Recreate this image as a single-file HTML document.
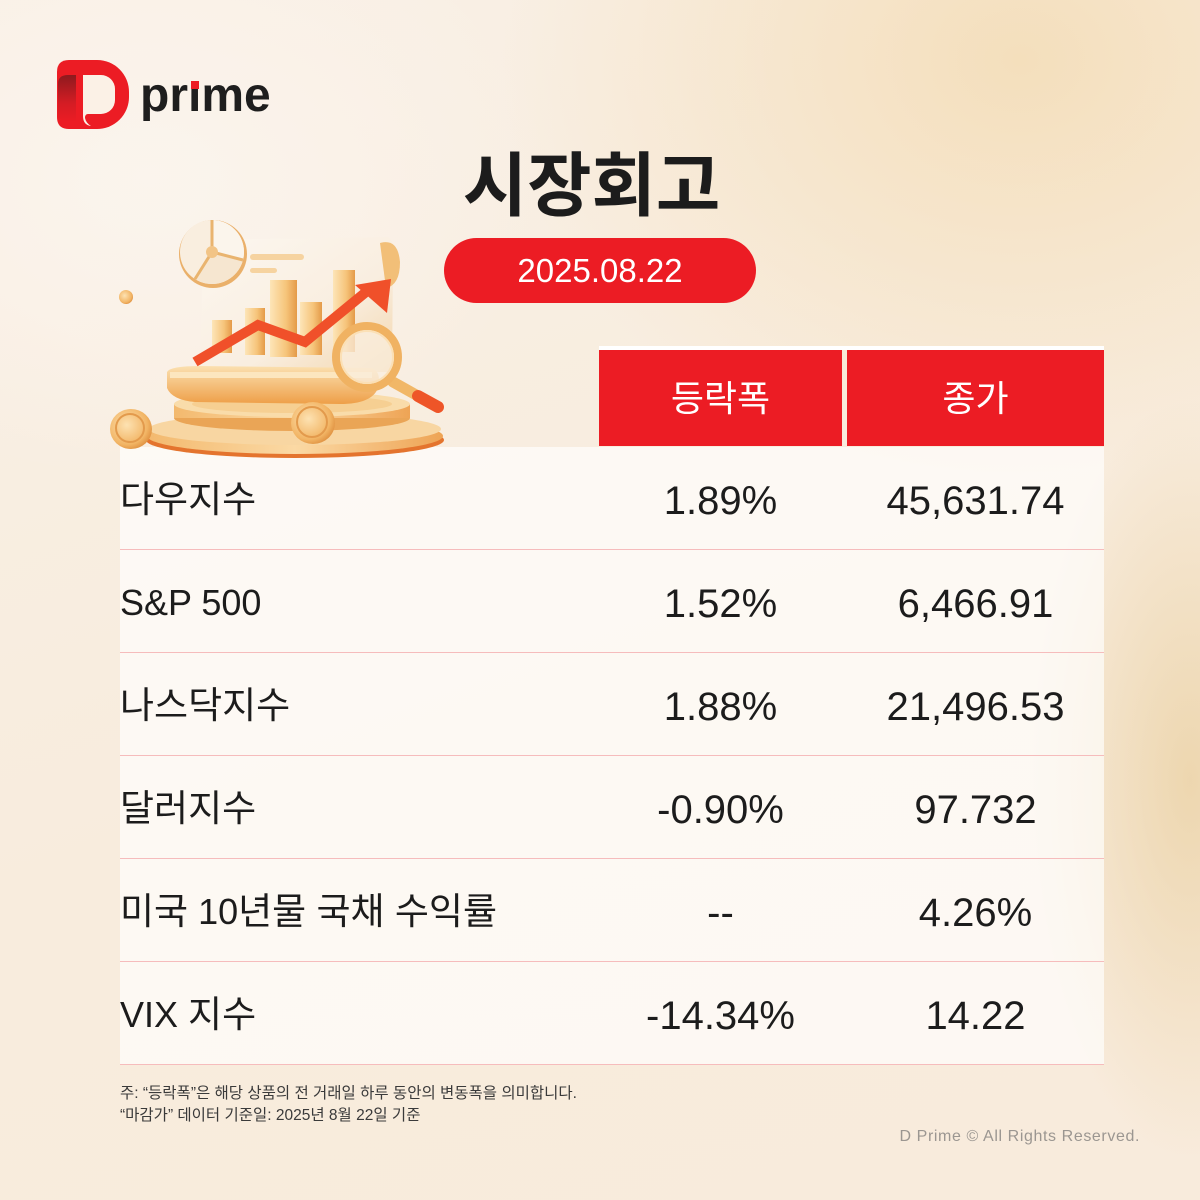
<!DOCTYPE html>
<html lang="ko">
<head>
<meta charset="utf-8">
<style>
  html,body{margin:0;padding:0;}
  body{
    width:1200px;height:1200px;position:relative;overflow:hidden;
    font-family:"Liberation Sans","Noto Sans CJK KR",sans-serif;
    background:
      radial-gradient(ellipse 520px 420px at 1020px 60px, rgba(244,222,186,0.95), rgba(244,222,186,0) 100%),
      radial-gradient(ellipse 160px 380px at 1190px 780px, rgba(236,212,170,0.9), rgba(236,212,170,0) 100%),
      radial-gradient(ellipse 400px 300px at 150px 180px, rgba(251,245,238,0.9), rgba(251,245,238,0) 100%),
      linear-gradient(160deg, #f9f0e6 0%, #f8ecdd 55%, #f8ebdc 100%);
  }
  .abs{position:absolute;}
  .title{left:0;width:1183px;top:138px;text-align:center;font-size:70px;font-weight:700;color:#1c1c1c;line-height:96px;}
  .pill{left:444px;top:238px;width:312px;height:65px;border-radius:33px;background:#ec1c24;color:#fff;font-size:33px;text-align:center;line-height:66px;}
  .hdr{top:346px;height:4px;background:#fff;}
  .hcell{top:350px;height:96px;background:#ec1c24;color:#fff;font-size:36px;text-align:center;line-height:98px;}
  .rows{left:120px;top:447px;width:984px;height:618px;background:rgba(255,255,255,0.66);}
  .row{position:absolute;left:120px;width:984px;height:103px;border-bottom:1.5px solid #f6bcbc;box-sizing:border-box;}
  .lab{position:absolute;left:0;top:2px;height:101px;line-height:101px;font-size:36px;color:#1c1c1c;white-space:nowrap;}
  .k{font-size:37px;}
  .v1,.v2{position:absolute;top:3px;height:103px;line-height:103px;font-size:40px;color:#1c1c1c;text-align:center;}
  .v1{left:479px;width:243px;}
  .v2{left:727px;width:257px;}
  .note{left:120px;font-size:15.5px;color:#3a3a3a;line-height:20px;white-space:nowrap;}
  .copy{right:60px;top:1128px;font-size:16px;color:#9b9691;letter-spacing:0.6px;white-space:nowrap;}
  .logo-text{left:140px;top:66px;font-size:48px;font-weight:700;color:#1e1e1e;line-height:60px;white-space:nowrap;}
</style>
</head>
<body>

<!-- Logo -->
<svg class="abs" style="left:50px;top:50px" width="90" height="90" viewBox="0 0 90 90">
  <defs>
    <linearGradient id="lg1" x1="0" y1="0" x2="0" y2="1">
      <stop offset="0" stop-color="#8e1a1e"/>
      <stop offset="0.6" stop-color="#d41c24"/>
      <stop offset="1" stop-color="#ec1c24"/>
    </linearGradient>
  </defs>
  <path d="M7,22 Q7,10 19,10 L47,10 A32,32 0 0 1 79,42 L79,47 A32,32 0 0 1 47,79 L19,79 Q7,79 7,67 Z" fill="#ec1c24"/>
  <path d="M8,34 Q8,25 18,25 L26,25 L26,72 Q16,72 8,68 Z" fill="url(#lg1)"/>
  <path d="M33,25 L51,25 A14,14 0 0 1 65,39 L65,50 A14,14 0 0 1 51,64 L38,64 Q35,64 35,68 Q36,73 41,76 Q33,75 33,66 Z" fill="#fbf1e6"/>
</svg>
<div class="abs logo-text">prıme</div>
<div class="abs" style="left:191px;top:81px;width:8px;height:8px;background:#ec1c24;"></div>

<!-- Title -->
<div class="abs title">시장회고</div>
<div class="abs pill">2025.08.22</div>

<!-- Table header -->
<div class="abs hdr" style="left:599px;width:505px;"></div>
<div class="abs hcell" style="left:599px;width:243px;">등락폭</div>
<div class="abs hcell" style="left:847px;width:257px;">종가</div>

<!-- Table rows -->
<div class="abs rows"></div>
<div class="row" style="top:447px;"><div class="lab"><span class="k">다우지수</span></div><div class="v1">1.89%</div><div class="v2">45,631.74</div></div>
<div class="row" style="top:550px;"><div class="lab">S&amp;P 500</div><div class="v1">1.52%</div><div class="v2">6,466.91</div></div>
<div class="row" style="top:653px;"><div class="lab"><span class="k">나스닥지수</span></div><div class="v1">1.88%</div><div class="v2">21,496.53</div></div>
<div class="row" style="top:756px;"><div class="lab"><span class="k">달러지수</span></div><div class="v1">-0.90%</div><div class="v2">97.732</div></div>
<div class="row" style="top:859px;"><div class="lab"><span class="k">미국</span> 10<span class="k">년물 국채 수익률</span></div><div class="v1">--</div><div class="v2">4.26%</div></div>
<div class="row" style="top:962px;"><div class="lab">VIX <span class="k">지수</span></div><div class="v1">-14.34%</div><div class="v2">14.22</div></div>

<!-- Notes -->
<div class="abs note" style="top:1084px;">주: “등락폭”은 해당 상품의 전 거래일 하루 동안의 변동폭을 의미합니다.</div>
<div class="abs note" style="top:1106px;">“마감가” 데이터 기준일: 2025년 8월 22일 기준</div>
<div class="abs copy">D Prime © All Rights Reserved.</div>

<!-- Illustration -->
<svg class="abs" style="left:0;top:0" width="1200" height="1200" viewBox="0 0 1200 1200">
  <defs>
    <linearGradient id="goldv" x1="0" y1="0" x2="0" y2="1">
      <stop offset="0" stop-color="#fbe0b0"/>
      <stop offset="1" stop-color="#ee9f48"/>
    </linearGradient>
    <linearGradient id="paper" x1="0" y1="0" x2="1" y2="1">
      <stop offset="0" stop-color="#fcf7f0"/>
      <stop offset="0.6" stop-color="#f9eee0"/>
      <stop offset="1" stop-color="#f3d6ac"/>
    </linearGradient>
    <linearGradient id="bar" x1="0" y1="0" x2="1" y2="0">
      <stop offset="0" stop-color="#fde5b8"/>
      <stop offset="0.6" stop-color="#f6c47a"/>
      <stop offset="1" stop-color="#e49a48"/>
    </linearGradient>
    <linearGradient id="ped" x1="0" y1="0" x2="1" y2="0">
      <stop offset="0" stop-color="#f3b96e"/>
      <stop offset="0.5" stop-color="#fbd9a4"/>
      <stop offset="1" stop-color="#eea455"/>
    </linearGradient>
    <radialGradient id="coin" cx="0.4" cy="0.4" r="0.7">
      <stop offset="0" stop-color="#fde2b2"/>
      <stop offset="0.7" stop-color="#f2b565"/>
      <stop offset="1" stop-color="#d98535"/>
    </radialGradient>
  </defs>

  <!-- pedestal bottom tier -->
  <ellipse cx="295" cy="440" rx="149" ry="18" fill="#e4742e"/>
  <ellipse cx="295" cy="436" rx="148" ry="18" fill="url(#ped)"/>
  <ellipse cx="295" cy="429" rx="146" ry="16" fill="#f8d6a2"/>
  <!-- pedestal top tier -->
  <ellipse cx="292" cy="418" rx="118" ry="13" fill="#eaa556"/>
  <rect x="174" y="404" width="236" height="14" fill="url(#ped)"/>
  <ellipse cx="292" cy="404" rx="118" ry="13" fill="#f9dcaa"/>
  <ellipse cx="292" cy="404" rx="100" ry="9" fill="#f6cf92"/>

  <!-- paper -->
  <path d="M203,240 L388,237 Q398,245 393,260 L392,372 L200,372 Z" fill="url(#paper)"/>
  <path d="M380,243 Q398,238 400,262 Q400,285 386,288 Z" fill="#f2bf78"/>
  <rect x="250" y="254" width="54" height="6" rx="3" fill="#f6d3a0"/>
  <rect x="250" y="268" width="27" height="5" rx="2.5" fill="#f6d3a0"/>

  <!-- bars -->
  <rect x="212" y="320" width="20" height="33" fill="url(#bar)"/>
  <rect x="245" y="308" width="20" height="47" fill="url(#bar)"/>
  <rect x="270" y="280" width="27" height="77" fill="url(#bar)"/>
  <rect x="300" y="302" width="22" height="53" fill="url(#bar)"/>
  <rect x="333" y="270" width="22" height="82" fill="url(#bar)"/>

  <!-- scroll base -->
  <path d="M167,372 Q170,366 200,366 L370,368 Q382,370 378,388 Q372,404 340,404 L195,402 Q172,400 167,388 Z" fill="url(#goldv)"/>
  <path d="M170,372 L372,372 L372,378 L170,378 Z" fill="#fce6bf"/>

  <!-- red arrow -->
  <polyline points="195,362 258,325 305,342 366,292" fill="none" stroke="#f0502a" stroke-width="10" stroke-linejoin="miter"/>
  <polygon points="355,285 391,279 387,313" fill="#f0502a"/>

  <!-- pie chart -->
  <circle cx="213" cy="254" r="34" fill="#eab06a"/>
  <circle cx="212" cy="252" r="32" fill="#f9eedf"/>
  <path d="M212,252 L212,220 A32,32 0 0 1 243,260 Z" fill="#fbf5ec"/>
  <path d="M212,252 L243,260 A32,32 0 0 1 195,279 Z" fill="#f6e6d0"/>
  <path d="M212,252 L212,220" stroke="#e9b46f" stroke-width="3"/>
  <path d="M212,252 L243,260" stroke="#e9b46f" stroke-width="3"/>
  <path d="M212,252 L195,279" stroke="#e9b46f" stroke-width="3"/>
  <circle cx="212" cy="252" r="6" fill="#f2c486"/>

  <!-- magnifier -->
  <line x1="393" y1="382" x2="418" y2="396" stroke="#f1b767" stroke-width="11" stroke-linecap="round"/>
  <line x1="418" y1="396" x2="438" y2="407" stroke="#ee5528" stroke-width="12" stroke-linecap="round"/>
  <circle cx="367" cy="357" r="31" fill="rgba(250,238,222,0.75)" stroke="#f0b262" stroke-width="8"/>
  <circle cx="367" cy="357" r="26" fill="none" stroke="#fbe0b6" stroke-width="2"/>

  <!-- coins -->
  <ellipse cx="131" cy="429" rx="21" ry="20" fill="url(#coin)"/>
  <circle cx="130" cy="428" r="14" fill="none" stroke="#e39a4c" stroke-width="2"/>
  <ellipse cx="313" cy="423" rx="22" ry="21" fill="url(#coin)"/>
  <circle cx="312" cy="422" r="15" fill="none" stroke="#e39a4c" stroke-width="2"/>
  <circle cx="126" cy="297" r="7" fill="url(#coin)"/>
</svg>

</body>
</html>
